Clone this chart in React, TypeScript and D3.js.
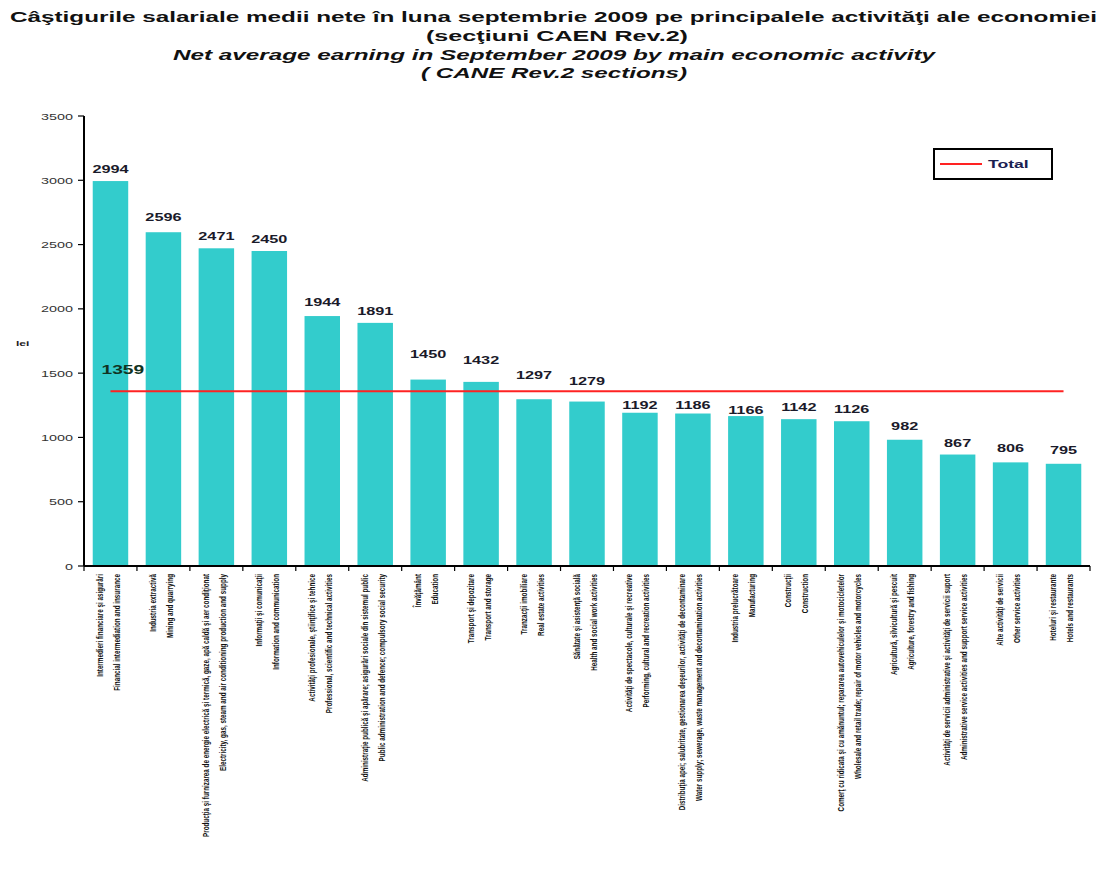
import React from "react";
import * as d3 from "d3";

const categoriesRo = [
  "Intermedieri financiare şi asigurări",
  "Industria extractivă",
  "Producţia şi furnizarea de energie electrică şi termică, gaze, apă caldă şi aer condiţionat",
  "Informaţii şi comunicaţii",
  "Activităţi profesionale, ştiinţifice şi tehnice",
  "Administraţie publică şi apărare; asigurări sociale din sistemul public",
  "Învăţământ",
  "Transport şi depozitare",
  "Tranzacţii imobiliare",
  "Sănătate şi asistenţă socială",
  "Activităţi de spectacole, culturale şi recreative",
  "Distribuţia apei; salubritate, gestionarea deşeurilor, activităţi de decontaminare",
  "Industria prelucrătoare",
  "Construcţii",
  "Comerţ cu ridicata şi cu amănuntul; repararea autovehiculelor şi motocicletelor",
  "Agricultură, silvicultură şi pescuit",
  "Activităţi de servicii administrative şi activităţi de servicii suport",
  "Alte activităţi de servicii",
  "Hoteluri şi restaurante",
];

const categoriesEn = [
  "Financial intermediation and insurance",
  "Mining and quarrying",
  "Electricity, gas, steam and air conditioning production and supply",
  "Information and communication",
  "Professional, scientific and technical activities",
  "Public administration and defence; compulsory social security",
  "Education",
  "Transport and storage",
  "Real estate activities",
  "Health and social work activities",
  "Performing, cultural and recreation activities",
  "Water supply; sewerage, waste management and decontamination activities",
  "Manufacturing",
  "Construction",
  "Wholesale and retail trade; repair of motor vehicles and motorcycles",
  "Agriculture, forestry and fishing",
  "Administrative service activities and support service activities",
  "Other service activities",
  "Hotels and restaurants",
];

const values = [2994, 2596, 2471, 2450, 1944, 1891, 1450, 1432, 1297, 1279, 1192, 1186, 1166, 1142, 1126, 982, 867, 806, 795];

const totalValue = 1359;
const yTicks = [0, 500, 1000, 1500, 2000, 2500, 3000, 3500];

// extra lift of value labels (layout only, as placed in the original)
const valueLabelLift = [0, 3, 0, 0, 2, 0, 14, 10, 12, 9, -4, -3, -6, 0, 0, 2, 0, 2, 2];

const titleLines = [
  "Câştigurile salariale medii nete în luna septembrie  2009 pe principalele activităţi ale economiei",
  "(secţiuni CAEN Rev.2)",
  "Net average earning in September  2009 by main economic activity",
  "( CANE Rev.2 sections)",
];

const FONT = "'Liberation Sans', Arial, Helvetica, sans-serif";
const TEAL = "#33CCCC";
const RED = "#FF2222";

export default function App() {
  const W = 1102;
  const H = 871;
  const x0 = 84;
  const x1 = 1090;
  const yBase = 566;
  const yTop = 116;

  const idx = values.map((_, i) => i);
  const x = d3.scaleBand<number>().domain(idx).range([x0, x1]).paddingInner(0.33).paddingOuter(0.165);
  const y = d3.scaleLinear().domain([0, 3500]).range([yBase, yTop]);
  const step = x.step();
  const bw = x.bandwidth();
  const boundaries = d3.range(values.length + 1).map((i) => x0 + i * step);

  const titleSpans = [
    { x1: 10, x2: 1097, y: 22, italic: false },
    { x1: 426, x2: 688, y: 41, italic: false },
    { x1: 173, x2: 935, y: 60, italic: true },
    { x1: 421, x2: 687, y: 78, italic: true },
  ];

  const center = (i: number) => (x(i) as number) + bw / 2;

  return (
    <svg width={W} height={H} style={{ position: "absolute", left: 0, top: 0, background: "#fff" }} fontFamily={FONT}>
      <rect x={0} y={0} width={W} height={H} fill="#fff" />
      {/* Title */}
      {titleLines.map((t, i) => {
        const s = titleSpans[i];
        return (
          <text
            key={"t" + i}
            x={s.x1}
            y={s.y}
            fontSize={15}
            fontWeight="bold"
            fontStyle={s.italic ? "italic" : "normal"}
            textLength={s.x2 - s.x1}
            lengthAdjust="spacingAndGlyphs"
            fill="#111"
          >
            {t}
          </text>
        );
      })}

      {/* Bars */}
      {values.map((v, i) => (
        <rect key={"b" + i} x={x(i)} y={y(v)} width={bw} height={yBase - y(v)} fill={TEAL} />
      ))}

      {/* Value labels */}
      {values.map((v, i) => (
        <text
          key={"v" + i}
          transform={`translate(${center(i)},${y(v) - 8 - valueLabelLift[i]}) scale(1.55,1)`}
          textAnchor="middle"
          fontSize={10.5}
          fontWeight="bold"
          fill="#1a1a2a"
        >
          {v}
        </text>
      ))}

      {/* Total line */}
      <line x1={center(0)} x2={center(values.length - 1)} y1={y(totalValue)} y2={y(totalValue)} stroke={RED} strokeWidth={2} />
      <text
        transform={`translate(${center(0) - 9},${y(totalValue) - 17}) scale(1.6,1)`}
        fontSize={12}
        fontWeight="bold"
        fill="#113322"
      >
        {totalValue}
      </text>

      {/* Y axis */}
      <line x1={x0} x2={x0} y1={yTop} y2={yBase} stroke="#000" strokeWidth={2} />
      {yTicks.map((t) => (
        <g key={"yt" + t}>
          <line x1={x0 - 6} x2={x0} y1={y(t)} y2={y(t)} stroke="#000" strokeWidth={1.2} />
          <text
            transform={`translate(${x0 - 11},${y(t) + 3.5}) scale(1.6,1)`}
            textAnchor="end"
            fontSize={9}
            fill="#333"
          >
            {t}
          </text>
        </g>
      ))}
      <text transform={`translate(16,346) scale(1.6,1)`} fontSize={7.5} fontWeight="bold" fill="#222">
        lei
      </text>

      {/* X axis */}
      <line x1={x0} x2={x1} y1={yBase} y2={yBase} stroke="#000" strokeWidth={2} />
      {boundaries.map((b, i) => (
        <line key={"xt" + i} x1={b} x2={b} y1={yBase} y2={yBase + 5} stroke="#000" strokeWidth={1.2} />
      ))}

      {/* Category labels */}
      {values.map((_, i) => {
        const c = center(i);
        return (
          <g key={"c" + i}>
            <text
              transform={`translate(${c - 7.5},${yBase + 8}) rotate(-90) scale(1,1.3)`}
              textAnchor="end"
              fontSize={6.3}
              fontWeight="bold"
              fill="#111"
            >
              {categoriesRo[i]}
            </text>
            <text
              transform={`translate(${c + 9.5},${yBase + 8}) rotate(-90) scale(1,1.3)`}
              textAnchor="end"
              fontSize={6.3}
              fontWeight="bold"
              fill="#111"
            >
              {categoriesEn[i]}
            </text>
          </g>
        );
      })}

      {/* Legend */}
      <rect x={934} y={149} width={118} height={30} fill="#fff" stroke="#000" strokeWidth={2} />
      <line x1={940} x2={982} y1={164} y2={164} stroke={RED} strokeWidth={2} />
      <text transform={`translate(988,168) scale(1.6,1)`} fontSize={11} fontWeight="bold" fill="#1a2050">
        Total
      </text>
    </svg>
  );
}
